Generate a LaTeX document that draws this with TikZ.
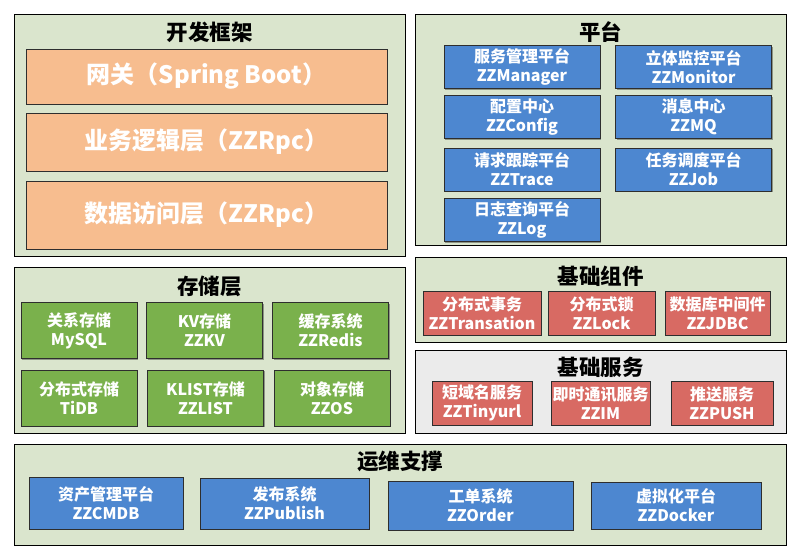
\documentclass[tikz,border=0pt]{standalone}
\usepackage{fontspec}
\setmainfont{Noto Sans CJK SC}
\usetikzlibrary{positioning, shadows}
\definecolor{fondoPanel}{HTML}{DAE5CD}
\definecolor{fondoGris}{HTML}{EBEBEB}
\definecolor{naranjaCapa}{HTML}{F7BD8F}
\definecolor{azulPlataforma}{HTML}{4D87D0}
\definecolor{verdeAlmacen}{HTML}{7AB14C}
\definecolor{rojoComponente}{HTML}{D86A63}
\definecolor{bordeCaja}{HTML}{2E2E2E}

\begin{document}
\begin{tikzpicture}[x=1pt, y=-1pt,
        panel/.style={draw=black, line width=0.9pt, fill=fondoPanel, inner sep=0},
        ttl/.style={font=\bfseries\fontsize{21.5}{24}\selectfont, inner sep=0},
        caja/.style={draw=bordeCaja, line width=0.8pt, text=white, align=center, inner sep=0,
            font=\bfseries\fontsize{16}{19}\selectfont,
            drop shadow={shadow xshift=1.3pt, shadow yshift=-1.3pt, opacity=0.35, fill=black}},
        capa/.style={caja, fill=naranjaCapa, minimum width=361pt,
            font=\bfseries\fontsize{24}{28}\selectfont},
        plat/.style={caja, fill=azulPlataforma, minimum width=156pt, minimum height=43pt},
        alm/.style={caja, fill=verdeAlmacen, minimum width=116pt, minimum height=56pt},
        comp/.style={caja, fill=rojoComponente, minimum height=44pt},
        ops/.style={caja, fill=azulPlataforma, minimum height=52pt}]
        \useasboundingbox (0,0) rectangle (800,557);
        % paneles
        \node[panel, minimum width=391pt, minimum height=242pt] (kf) at (209.5,135) {};
        \node[panel, minimum width=371pt, minimum height=231pt] (pt) at (600.5,129.5) {};
        \node[panel, minimum width=391pt, minimum height=166pt] (cc) at (209.5,350) {};
        \node[panel, minimum width=371pt, minimum height=85pt] (jz) at (600.5,299.5) {};
        \node[panel, fill=fondoGris, minimum width=371pt, minimum height=83pt] (fw) at (600.5,391.5) {};
        \node[panel, minimum width=772pt, minimum height=101pt] (yw) at (400,494.5) {};
        \node[ttl, below=8pt of kf.north] (kfT) {开发框架};
        \node[ttl, below=8pt of pt.north] (ptT) {平台};
        \node[ttl, below=9pt of cc.north] (ccT) {存储层};
        \node[ttl, below=9pt of jz.north] (jzT) {基础组件};
        \node[ttl, below=7pt of fw.north] (fwT) {基础服务};
        \node[ttl, below=7pt of yw.north] (ywT) {运维支撑};
        % 开发框架
        \node[capa, minimum height=55pt] (gw) at (206.5,76.5) {网关（Spring Boot）};
        \node[capa, minimum height=58pt] (biz) at (206.5,142) {业务逻辑层（ZZRpc）};
        \node[capa, minimum height=68pt] (dao) at (206.5,215) {数据访问层（ZZRpc）};
        % 平台
        \node[plat] (mgr) at (522,67) {服务管理平台\\ZZManager};
        \node[plat] (mon) at (693.5,67) {立体监控平台\\ZZMonitor};
        \node[plat] (cfg) at (522,117) {配置中心\\ZZConfig};
        \node[plat] (mq) at (693.5,117) {消息中心\\ZZMQ};
        \node[plat] (trc) at (522,169.5) {请求跟踪平台\\ZZTrace};
        \node[plat] (job) at (693.5,169.5) {任务调度平台\\ZZJob};
        \node[plat] (log) at (522,220) {日志查询平台\\ZZLog};
        % 存储层
        \node[alm] (sql) at (79,330.5) {关系存储\\MySQL};
        \node[alm] (kv) at (204.5,330.5) {KV存储\\ZZKV};
        \node[alm] (rds) at (330.5,330.5) {缓存系统\\ZZRedis};
        \node[alm] (tidb) at (79,398) {分布式存储\\TiDB};
        \node[alm] (klist) at (205.5,398) {KLIST存储\\ZZLIST};
        \node[alm] (os) at (332,398) {对象存储\\ZZOS};
        % 基础组件 / 基础服务
        \node[comp, minimum width=118pt] (tx) at (482,313) {分布式事务\\ZZTransation};
        \node[comp, minimum width=107pt] (lock) at (601.5,313) {分布式锁\\ZZLock};
        \node[comp, minimum width=105pt] (jdbc) at (717.5,313) {数据库中间件\\ZZJDBC};
        \node[comp, minimum width=100pt] (url) at (482,403) {短域名服务\\ZZTinyurl};
        \node[comp, minimum width=99pt] (im) at (600.5,403) {即时通讯服务\\ZZIM};
        \node[comp, minimum width=102pt] (push) at (722,403) {推送服务\\ZZPUSH};
        % 运维支撑
        \node[ops, minimum width=154pt] (cmdb) at (106,503) {资产管理平台\\ZZCMDB};
        \node[ops, minimum width=169pt, minimum height=51pt] (pub) at (284.5,503.5) {发布系统\\ZZPublish};
        \node[ops, minimum width=185pt, minimum height=49pt] (ord) at (480.5,505.5) {工单系统\\ZZOrder};
        \node[ops, minimum width=170pt, minimum height=47pt] (dock) at (676,505.5) {虚拟化平台\\ZZDocker};
    \end{tikzpicture}
\end{document}
